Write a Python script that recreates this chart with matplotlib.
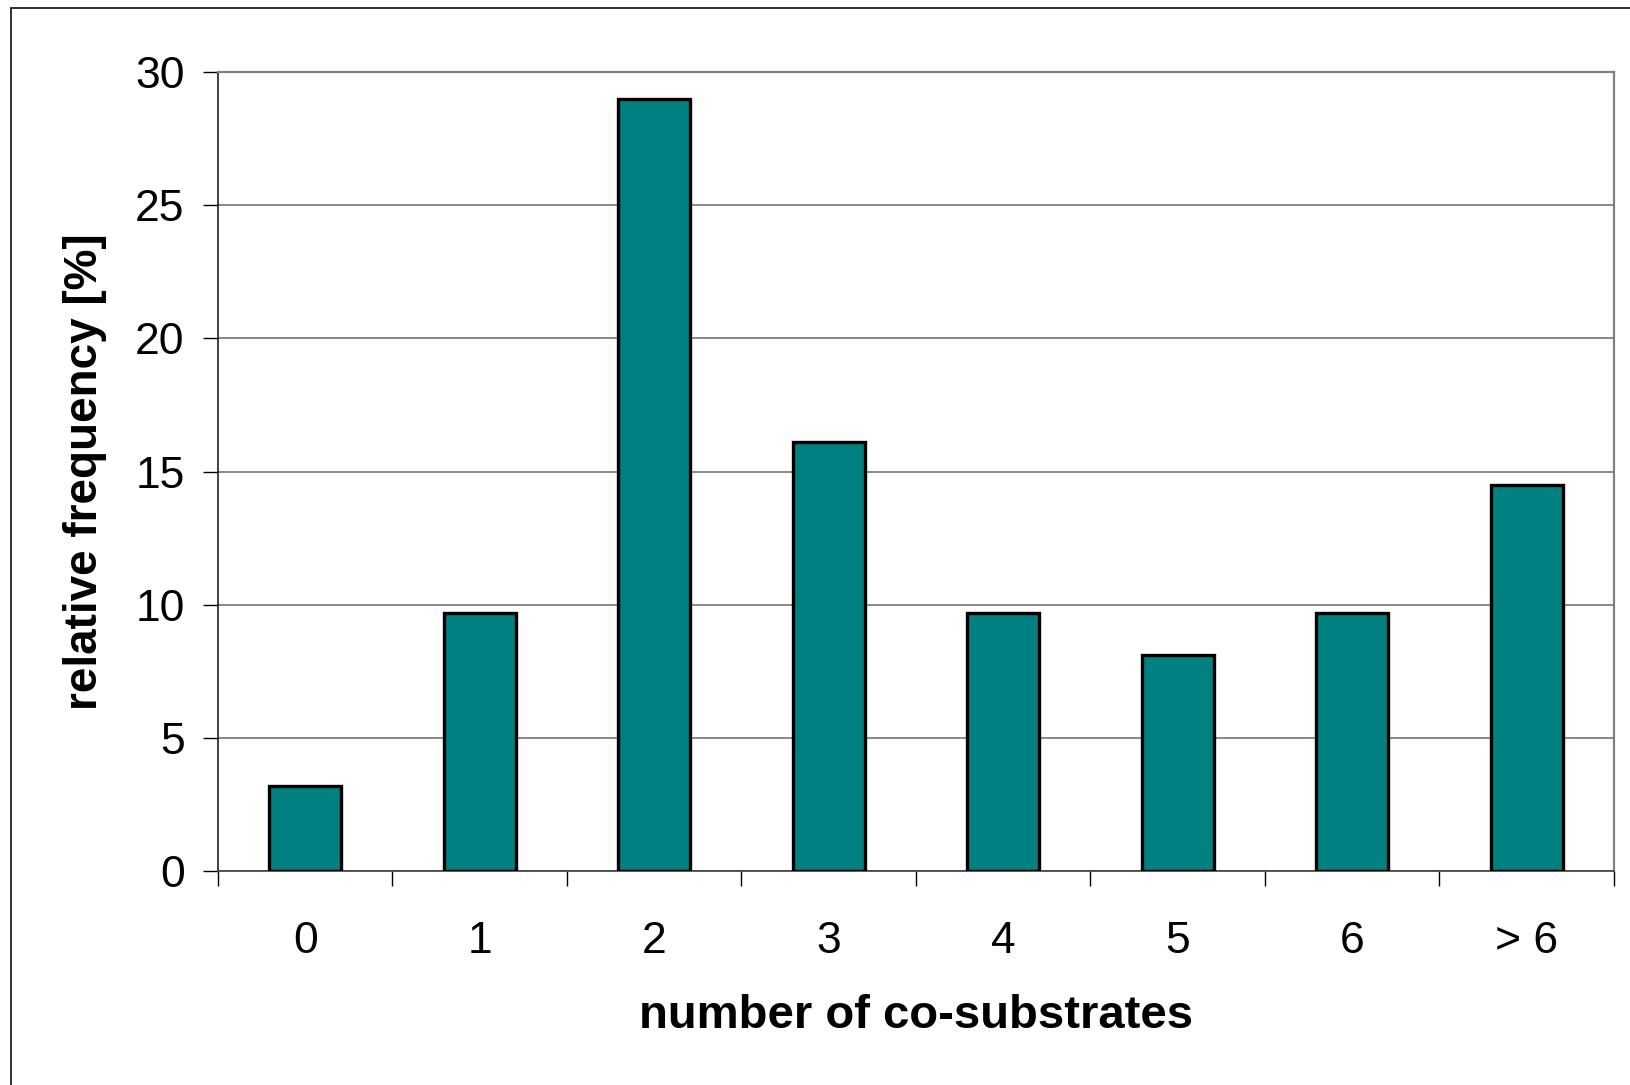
import matplotlib
matplotlib.use("Agg")
import matplotlib.pyplot as plt
from matplotlib.patches import Rectangle
import numpy as np

categories = ["0", "1", "2", "3", "4", "5", "6", "> 6"]
values = [3.2, 9.7, 29.0, 16.1, 9.7, 8.1, 9.7, 14.5]
yticks = [0, 5, 10, 15, 20, 25, 30]

plt.rcParams['font.family'] = ['Liberation Sans', 'DejaVu Sans']

W, H = 1631, 1085
fig = plt.figure(figsize=(W / 100, H / 100), dpi=100)

# outer frame (left and top edges visible, clipped at right/bottom)
fig.patches.append(Rectangle((11 / W, -0.1), 1.2, (1 - 8 / H) + 0.1,
                             transform=fig.transFigure, fill=False,
                             edgecolor='#202020', linewidth=1.3))

ax = fig.add_axes([218 / W, 1 - 871 / H, (1614 - 218) / W, (871 - 72) / H])
x = np.arange(len(categories))
ax.bar(x, values, width=0.41, color='#008080', edgecolor='black',
       linewidth=2.4, zorder=3)

ax.set_xlim(-0.5, len(categories) - 0.5)
ax.set_ylim(0, 30)
ax.set_yticks(yticks)
ax.yaxis.grid(True, color='#808080', linewidth=1.3, zorder=0)
ax.set_axisbelow(True)

ax.set_xticks(x)
ax.set_xticklabels(categories)
ax.set_xticks(np.arange(-0.5, len(categories)), minor=True)
ax.tick_params(axis='x', which='major', length=0, pad=36, labelsize=32)
ax.tick_params(axis='x', which='minor', length=11, width=1.0, direction='out',
               color='black')
ax.tick_params(axis='y', which='major', length=11, width=1.0, direction='out',
               pad=13, labelsize=32, color='black')

for side in ['top', 'right']:
    ax.spines[side].set_color('#808080')
    ax.spines[side].set_linewidth(1.6)
ax.spines['left'].set_color('#202020')
ax.spines['left'].set_linewidth(1.2)
ax.spines['bottom'].set_color('#404040')
ax.spines['bottom'].set_linewidth(1.2)

ax.set_xlabel('number of co-substrates', fontsize=34, fontweight='bold',
              labelpad=23)
ax.set_ylabel('relative frequency [%]', fontsize=33, fontweight='bold',
              labelpad=20)

fig.savefig('out.png', dpi=100)
